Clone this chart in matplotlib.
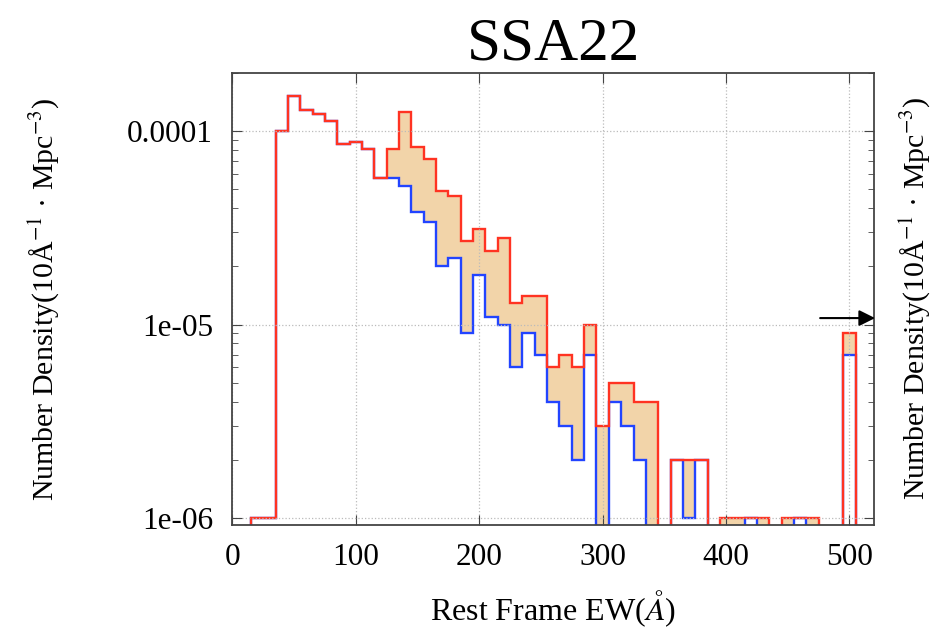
import numpy as np
import matplotlib
matplotlib.use("Agg")
import matplotlib.pyplot as plt

plt.rcParams["font.family"] = ["Liberation Serif", "DejaVu Serif"]
plt.rcParams["mathtext.fontset"] = "stix"

# bin edges of the rest-frame EW histogram (10 A bins)
edges = [15, 25, 35, 45, 55, 65, 75, 85, 95, 105, 115, 125, 135, 145, 155, 165,
         175, 185, 195, 205, 215, 225, 235, 245, 255, 265, 275, 285, 295, 305,
         315, 325, 335, 345, 355, 365, 375, 385, 395, 405, 415, 425, 435, 445,
         455, 465, 475, 485, 495, 505]

# number density, full sample (red) and the subsample (blue)
red = [1e-6, 1e-6, 100e-6, 151e-6, 129e-6, 122e-6, 113e-6, 86e-6, 88e-6, 81e-6,
       57e-6, 81e-6, 125e-6, 83e-6, 72e-6, 49e-6, 46e-6, 27e-6, 31e-6, 24e-6,
       28e-6, 13e-6, 14e-6, 14e-6, 6e-6, 7e-6, 6e-6, 10e-6, 3e-6, 5e-6,
       5e-6, 4e-6, 4e-6, 0, 2e-6, 2e-6, 2e-6, 0, 1e-6, 1e-6,
       1e-6, 1e-6, 0, 1e-6, 1e-6, 1e-6, 0, 0, 9e-6]
blue = [1e-6, 1e-6, 100e-6, 151e-6, 129e-6, 122e-6, 113e-6, 86e-6, 88e-6, 81e-6,
        57e-6, 57e-6, 52e-6, 38e-6, 34e-6, 20e-6, 22e-6, 9e-6, 18e-6, 11e-6,
        10e-6, 6e-6, 9e-6, 7e-6, 4e-6, 3e-6, 2e-6, 7e-6, 0, 4e-6,
        3e-6, 2e-6, 0, 0, 2e-6, 1e-6, 2e-6, 0, 0, 0,
        1e-6, 0, 0, 0, 1e-6, 0, 0, 0, 7e-6]

ytick_vals = [1e-6, 1e-5, 1e-4]
ytick_labels = ["1e-06", "1e-05", "0.0001"]
xtick_vals = [0, 100, 200, 300, 400, 500]

ylab = r"Number Density(10Å$^{-1}$ · Mpc$^{-3}$)"

floor = 1e-9
r = np.where(np.array(red) > 0, red, floor)
b = np.where(np.array(blue) > 0, blue, floor)

fig = plt.figure(figsize=(9.45, 6.28), dpi=100)
ax = fig.add_axes([0.246, 0.164, 0.679, 0.720])

ax.stairs(r, edges, baseline=b, fill=True, color="#f2d4a9", lw=0)
ax.stairs(b, edges, baseline=floor, color="#2244ff", lw=1.7)
ax.stairs(r, edges, baseline=floor, color="#ff3322", lw=1.7)

ax.set_yscale("log")
ax.set_xlim(0, 520)
ax.set_ylim(0.92e-6, 2e-4)
ax.set_yticks(ytick_vals)
ax.set_yticklabels(ytick_labels)
ax.set_xticks(xtick_vals)
ax.grid(True, which="major", color="#bbbbbb", ls=":", lw=0.9)

ax.tick_params(which="both", direction="in", top=True, right=True,
               labelsize=22.5, color="#444444")
ax.tick_params(axis="y", which="major", length=7, pad=14)
ax.tick_params(axis="x", which="major", length=7, pad=13)
ax.tick_params(axis="y", which="minor", length=4)
for s in ax.spines.values():
    s.set_color("#444444")
    s.set_linewidth(1.3)

ax.set_title("SSA22", fontsize=44, pad=8)
ax.set_xlabel(r"Rest Frame EW($Å$)", fontsize=23, labelpad=12)
ax.set_ylabel(ylab, fontsize=21.5)
ax.yaxis.set_label_coords(-0.268, 0.5)
fig.text(0.968, 0.525, ylab, fontsize=21.5, rotation=90, ha="center", va="center")

ax.annotate("", xy=(523, 1.08e-5), xytext=(474, 1.08e-5),
            arrowprops=dict(arrowstyle="-|>", color="black", lw=1.5,
                            mutation_scale=24),
            annotation_clip=False)

fig.savefig("out.png", dpi=100)
